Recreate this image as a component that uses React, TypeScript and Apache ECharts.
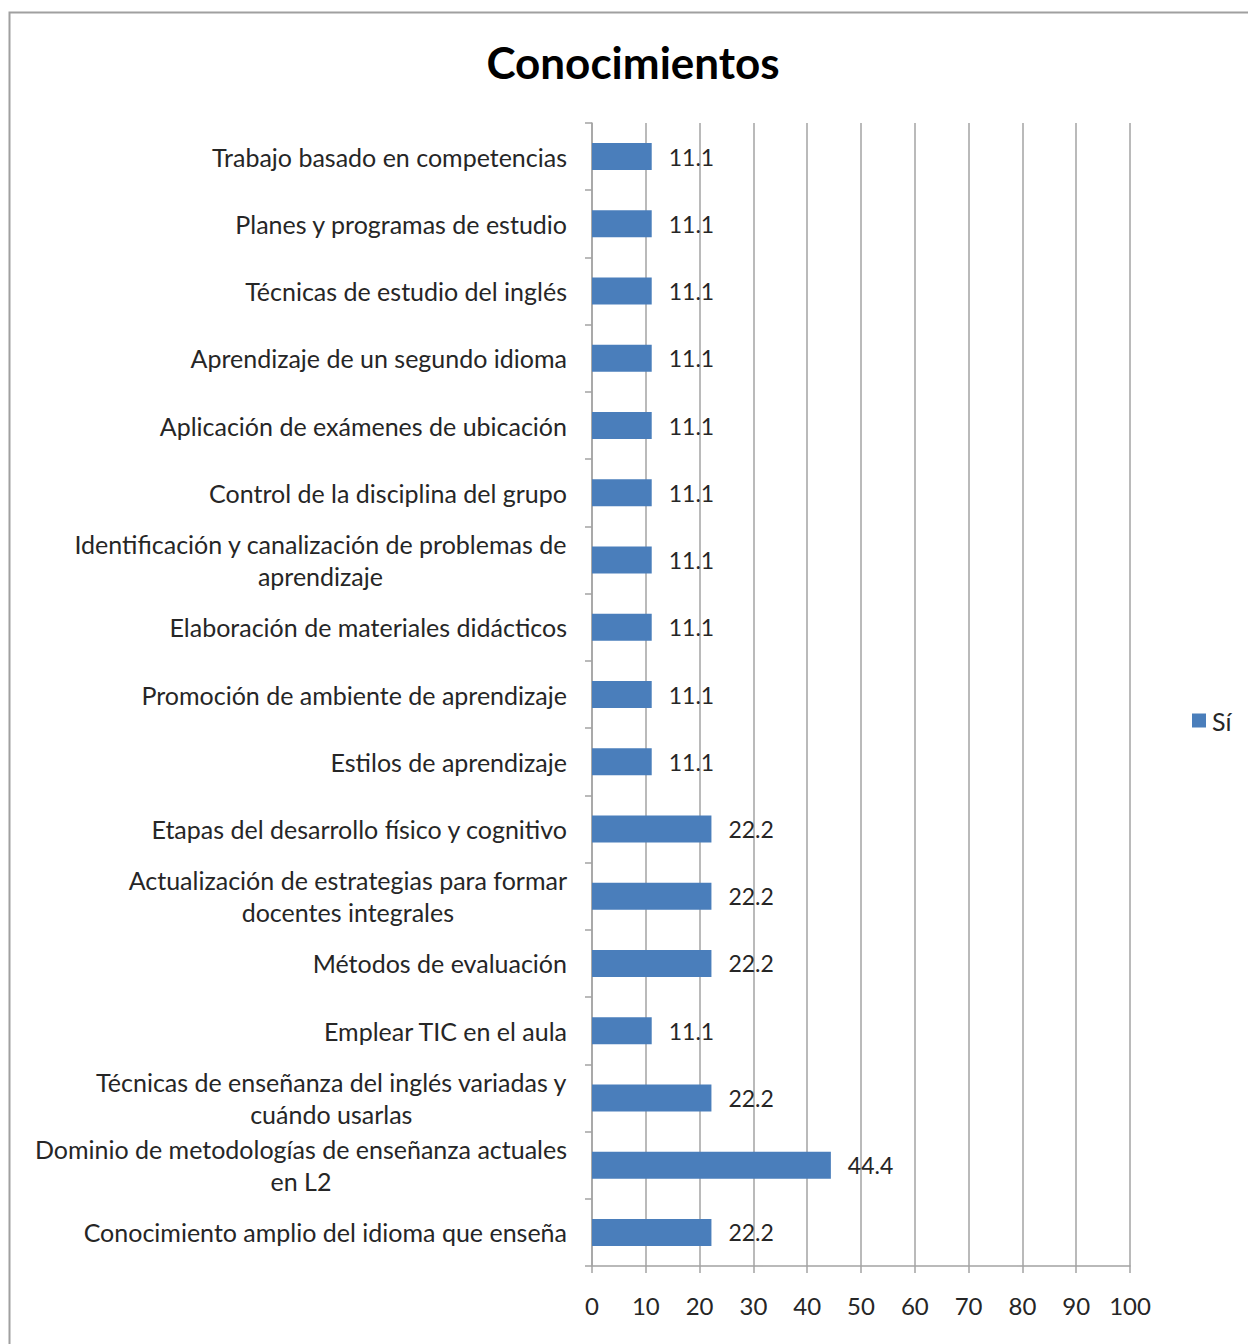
import React, { useEffect, useRef } from "react";
import * as echarts from "echarts";

const title = "Conocimientos";
const seriesName = "Sí";
const categories = [
  "Trabajo basado en competencias",
  "Planes y programas de estudio",
  "Técnicas de estudio del inglés",
  "Aprendizaje de un segundo idioma",
  "Aplicación de exámenes de ubicación",
  "Control de la disciplina del grupo",
  "Identificación y canalización de problemas de\naprendizaje",
  "Elaboración de materiales didácticos",
  "Promoción de ambiente de aprendizaje",
  "Estilos de aprendizaje",
  "Etapas del desarrollo físico y cognitivo",
  "Actualización de estrategias para formar\ndocentes integrales",
  "Métodos de evaluación",
  "Emplear TIC en el aula",
  "Técnicas de enseñanza del inglés variadas y\ncuándo usarlas",
  "Dominio de metodologías de enseñanza actuales\nen L2",
  "Conocimiento amplio del idioma que enseña",
];
const values = [11.1, 11.1, 11.1, 11.1, 11.1, 11.1, 11.1, 11.1, 11.1, 11.1, 22.2, 22.2, 22.2, 11.1, 22.2, 44.4, 22.2];
const xMin = 0;
const xMax = 100;
const xStep = 10;

const FONT = "Lato";
const TEXT = "#262626";
const BLUE = "#4a7ebb";
const GRID = "#a3a3a3";

export default function App() {
  const ref = useRef<HTMLDivElement>(null);
  useEffect(() => {
    if (!ref.current) return;
    const chart = echarts.init(ref.current, null, { renderer: "svg" });
    chart.setOption({
      animation: false,
      backgroundColor: "#ffffff",
      title: {
        text: title,
        left: 628,
        textAlign: "center",
        top: 35,
        textStyle: { fontFamily: FONT, fontSize: 44, fontWeight: "bold", color: "#000" },
      },
      legend: {
        data: [seriesName],
        left: 1187,
        top: 703,
        orient: "vertical",
        itemWidth: 14,
        itemHeight: 14,
        icon: "rect",
        textStyle: { fontFamily: FONT, fontSize: 25, color: TEXT, padding: [0, 0, 0, 1] },
      },
      grid: { left: 592, right: 118, top: 123, bottom: 78, containLabel: false },
      xAxis: {
        type: "value",
        min: xMin,
        max: xMax,
        interval: xStep,
        axisLine: { show: true, lineStyle: { color: GRID, width: 1.5 } },
        axisTick: { show: true, length: 7, lineStyle: { color: GRID, width: 1.5 } },
        splitLine: { show: true, lineStyle: { color: GRID, width: 1.5 } },
        axisLabel: { fontFamily: FONT, fontSize: 24, color: TEXT, margin: 27 },
      },
      yAxis: {
        type: "category",
        inverse: true,
        data: categories,
        axisLine: { show: true, lineStyle: { color: GRID, width: 1.5 } },
        axisTick: { show: true, length: 7, lineStyle: { color: GRID, width: 1.5 } },
        axisLabel: {
          fontFamily: FONT,
          fontSize: 25,
          color: TEXT,
          margin: 25,
          lineHeight: 32,
          interval: 0,
          formatter: (v: string) =>
            v.includes("\n") ? v.split("\n").map((l) => `{c|${l}}`).join("\n") : v,
          rich: {
            c: { align: "center", fontFamily: FONT, fontSize: 25, color: TEXT, lineHeight: 32 },
          },
        },
      },
      series: [
        {
          name: seriesName,
          type: "bar",
          data: values,
          barWidth: 27,
          itemStyle: { color: BLUE },
          label: {
            show: true,
            position: "right",
            distance: 17,
            fontFamily: FONT,
            fontSize: 23,
            color: TEXT,
            formatter: (p: any) => p.value.toFixed(1),
          },
        },
      ],
      graphic: [
        {
          type: "rect",
          shape: { x: 9.5, y: 12.5, width: 1400, height: 1400 },
          style: { fill: "none", stroke: "#a0a0a0", lineWidth: 2 },
          silent: true,
          z: -1,
        },
      ],
    });
    return () => chart.dispose();
  }, []);
  return (
    <div
      ref={ref}
      style={{ position: "absolute", left: 0, top: 0, width: 1248, height: 1344 }}
    />
  );
}
